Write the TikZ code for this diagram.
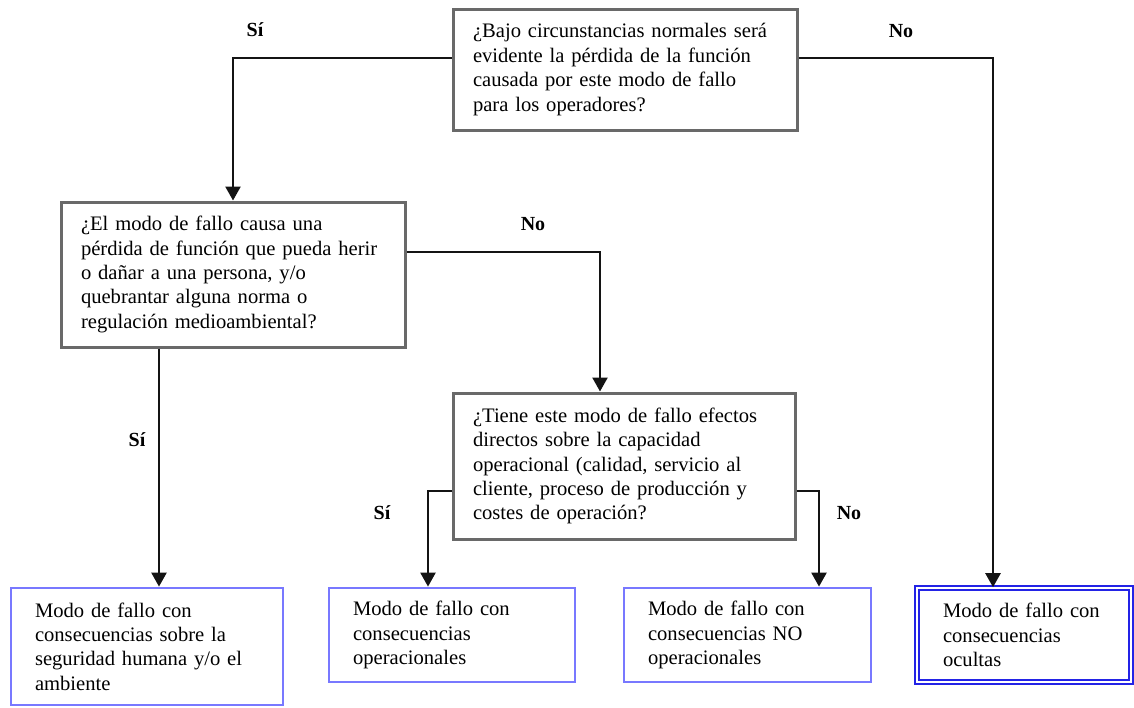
\documentclass[tikz,border=0pt]{standalone}
\usepackage{fontspec}
\setmainfont{Liberation Serif}
\usepackage{xcolor}
\usepackage{tikz}
\usetikzlibrary{arrows.meta, calc, positioning}
\definecolor{qgray}{RGB}{105,105,105}
\definecolor{lightblue}{RGB}{120,120,255}
\definecolor{deepblue}{RGB}{35,35,230}
\definecolor{wire}{RGB}{20,20,20}
\newcommand{\boxfont}{\fontsize{20.6}{24.4}\selectfont}

\begin{document}
\begin{tikzpicture}[x=1pt,y=-1pt,
	>={Triangle[length=14pt,width=15pt]},
	question/.style={draw=qgray,line width=3pt,rectangle,align=left,inner xsep=20pt,inner ysep=0pt,font=\boxfont,text=black},
	outcome/.style={draw=lightblue,line width=2.8pt,rectangle,align=left,inner xsep=24pt,inner ysep=0pt,font=\boxfont,text=black},
	hidden/.style={outcome,draw=deepblue,line width=1.6pt,double=white,double distance=2.6pt,inner xsep=26pt},
	answer/.style={font=\fontsize{20}{24}\selectfont\bfseries,inner sep=0pt},
	connector/.style={->,draw=wire,line width=2.4pt}]
\useasboundingbox (0,0) rectangle (1134,707);

\node[question,text width=304pt,minimum height=121pt] (q1) at (625,69.5){
	¿Bajo circunstancias normales será\\
	evidente la pérdida de la función\\
	causada por este modo de fallo\\
	para los operadores?};

\node[question,text width=304pt,minimum height=145pt] (q2) at (233,274.5){
	¿El modo de fallo causa una\\
	pérdida de función que pueda herir\\
	o dañar a una persona, y/o\\
	quebrantar alguna norma o\\
	regulación medioambiental?};

\node[question,text width=302pt,minimum height=146pt] (q3) at (624,466){
	¿Tiene este modo de fallo efectos\\
	directos sobre la capacidad\\
	operacional (calidad, servicio al\\
	cliente, proceso de producción y\\
	costes de operación?};

\node[outcome,text width=224pt,minimum height=117pt] (b5) at (147,646.5){
	Modo de fallo con\\
	consecuencias sobre la\\
	seguridad humana y/o el\\
	ambiente};

\node[outcome,text width=198pt,minimum height=94pt] (b6) at (452,635){
	Modo de fallo con\\
	consecuencias\\
	operacionales};

\node[outcome,text width=199pt,minimum height=94pt] (b7) at (747.5,635){
	Modo de fallo con\\
	consecuencias NO\\
	operacionales};

\node[hidden,text width=162pt,minimum height=94pt] (b8) at (1024,635){
	Modo de fallo con\\
	consecuencias\\
	ocultas};

\node[answer] (siTop) at (255,30){Sí};
\node[answer] (noTop) at (901,31){No};
\node[answer] (noMid) at (533,224){No};
\node[answer] (siLeft) at (137,440){Sí};
\node[answer] (siLow) at (382,513){Sí};
\node[answer] (noLow) at (849,513){No};

\draw[connector]([yshift= 11.5pt]q1.west)-| (q2.north);
\draw[connector]([yshift= 11.5pt]q1.east)-| ([xshift=-31pt]b8.north);
\draw[connector]([yshift= 22.5pt]q2.east)-| ([xshift=-24pt]q3.north);
\draw[connector]([xshift=-74pt]q2.south)-- ([xshift=-74pt]q2.south |- b5.north);
\draw[connector]([yshift=-25pt]q3.west)-| ([xshift=-24pt]b6.north);
\draw[connector]([yshift=-25pt]q3.east)-| ([xshift= 71.5pt]b7.north);
\end{tikzpicture}
\end{document}
